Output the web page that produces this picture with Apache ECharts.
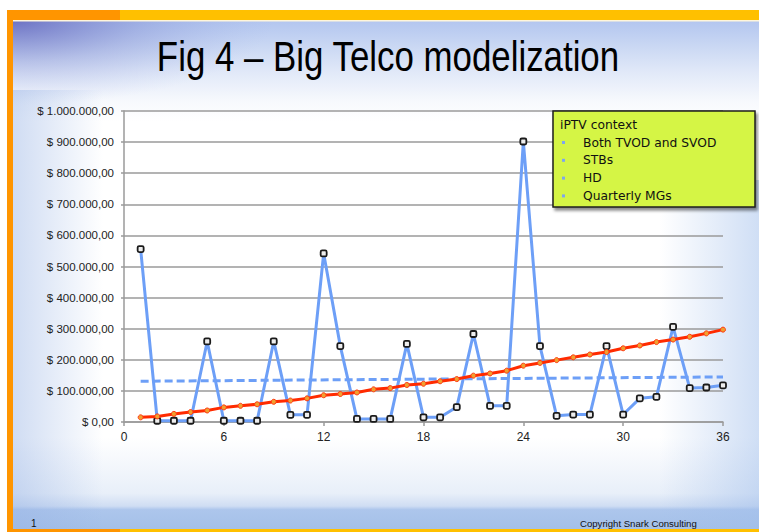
<!DOCTYPE html>
<html>
<head>
<meta charset="utf-8">
<title>Fig 4 - Big Telco modelization</title>
<script src="https://cdn.jsdelivr.net/npm/echarts@6/dist/echarts.min.js"></script>
<style>
	html, body { margin: 0; padding: 0; background: #fff; }
	#telcoChart { width: 759px; height: 532px; }
</style>
</head>
<body>
<div id="telcoChart"></div>
<script>
// 月份 1..36
var months = [1, 2, 3, 4, 5, 6, 7, 8, 9, 10, 11, 12, 13, 14, 15, 16, 17, 18,
	19, 20, 21, 22, 23, 24, 25, 26, 27, 28, 29, 30, 31, 32, 33, 34, 35, 36];

// 蓝线 (每月收入)
var monthlyRevenue = [556000, 4000, 4000, 4000, 259000, 4000, 4000, 4000, 259000, 23000, 23000, 542000,
	244000, 10000, 10000, 10000, 251000, 15000, 15000, 48000, 283000, 52000, 52000, 902000,
	244000, 20000, 24000, 24000, 244000, 24000, 76000, 81000, 306000, 109000, 111000, 118000];

// 红线
var growthRevenue = [15000, 18000, 26000, 32000, 37000, 47000, 52000, 57000, 65000, 69000, 76000, 86000,
	90000, 95000, 105000, 109000, 119000, 123000, 131000, 138000, 149000, 156000, 165000, 181000,
	190000, 199000, 208000, 217000, 225000, 237000, 246000, 257000, 265000, 274000, 285000, 297000];

// 虚线趋势 (两端)
var trendMonths = [1, 36];
var trendValues = [131000, 145000];

// 坐标轴
var xTicks = [0, 6, 12, 18, 24, 30, 36];
var yTicks = [0, 100000, 200000, 300000, 400000, 500000, 600000, 700000, 800000, 900000, 1000000];

// 图例框文字
var boxTitle = 'iPTV context';
var boxItems = ['Both TVOD and SVOD', 'STBs', 'HD', 'Quarterly MGs'];

var titleText = 'Fig 4 \u2013 Big Telco modelization';
var pageNo = '1';
var copyrightText = 'Copyright Snark Consulting';

var BLUE = '#6d9ff7';
var RED = '#ff2b00';

function toPairs(xs, ys) {
	var list = [];
	for (var i = 0; i < xs.length; i++) {
		list.push([xs[i], ys[i]]);
	}
	return list;
}

// $ 1.000.000,00
function formatMoney(value) {
	var s = Math.round(value).toString();
	var out = '';
	while (s.length > 3) {
		out = '.' + s.slice(-3) + out;
		s = s.slice(0, -3);
	}
	return '$ ' + s + out + ',00';
}

function backgroundGraphics() {
	var list = [];
	list.push({ type: 'rect', z: -100, silent: true, shape: { x: 0, y: 0, width: 759, height: 532 }, style: { fill: '#ffffff' } });
	// 幻灯片底色
	list.push({
		type: 'rect', z: -99, silent: true,
		shape: { x: 13, y: 20, width: 746, height: 509 },
		style: {
			fill: new echarts.graphic.LinearGradient(0, 0, 0, 1, [
				{ offset: 0, color: '#b2c5ef' },
				{ offset: 0.05, color: '#c9d7f3' },
				{ offset: 0.1, color: '#e0e8f8' },
				{ offset: 0.16, color: '#f7f9fd' },
				{ offset: 0.2, color: '#ffffff' },
				{ offset: 0.82, color: '#ffffff' },
				{ offset: 0.93, color: '#e8eff9' },
				{ offset: 0.955, color: '#cfddf3' },
				{ offset: 0.962, color: '#adc6ec' },
				{ offset: 1, color: '#a4c0e8' }
			])
		}
	});
	// 左上角深色
	list.push({
		type: 'rect', z: -98, silent: true,
		shape: { x: 13, y: 20, width: 260, height: 85 },
		style: {
			fill: new echarts.graphic.RadialGradient(0, 0, 1, [
				{ offset: 0, color: 'rgba(85,85,180,0.75)' },
				{ offset: 0.5, color: 'rgba(110,120,200,0.3)' },
				{ offset: 1, color: 'rgba(150,170,230,0)' }
			])
		}
	});
	// 左侧淡蓝
	list.push({
		type: 'rect', z: -98, silent: true,
		shape: { x: 13, y: 90, width: 90, height: 439 },
		style: {
			fill: new echarts.graphic.LinearGradient(0, 0, 1, 0, [
				{ offset: 0, color: 'rgba(150,178,228,0.45)' },
				{ offset: 1, color: 'rgba(150,178,228,0)' }
			])
		}
	});
	// 右侧云
	list.push({
		type: 'rect', z: -98, silent: true,
		shape: { x: 660, y: 180, width: 99, height: 349 },
		style: {
			fill: new echarts.graphic.LinearGradient(0, 0, 1, 0, [
				{ offset: 0, color: 'rgba(160,190,235,0)' },
				{ offset: 1, color: 'rgba(160,190,235,0.5)' }
			])
		}
	});
	// 页脚文字
	list.push({ type: 'text', z: 50, silent: true, x: 31, y: 523,
		style: { text: pageNo, fill: '#111', font: '10px "Liberation Sans", Arial, sans-serif', verticalAlign: 'middle' } });
	list.push({ type: 'text', z: 50, silent: true, x: 580, y: 523,
		style: { text: copyrightText, fill: '#111', font: '9.6px "Liberation Sans", Arial, sans-serif', verticalAlign: 'middle' } });
	// 橙色边框
	list.push({ type: 'rect', z: 60, silent: true, shape: { x: 7, y: 10, width: 752, height: 10 }, style: { fill: '#ffc000' } });
	list.push({ type: 'rect', z: 61, silent: true, shape: { x: 7, y: 10, width: 113, height: 10 }, style: { fill: '#ff9500' } });
	list.push({ type: 'rect', z: 60, silent: true, shape: { x: 13, y: 20, width: 746, height: 1.5 }, style: { fill: '#fff6dc' } });
	list.push({ type: 'rect', z: 61, silent: true, shape: { x: 7, y: 10, width: 6, height: 522 }, style: { fill: '#ff9500' } });
	list.push({ type: 'rect', z: 60, silent: true, shape: { x: 7, y: 529, width: 752, height: 3 }, style: { fill: '#ffc000' } });
	list.push({ type: 'rect', z: 61, silent: true, shape: { x: 7, y: 529, width: 113, height: 3 }, style: { fill: '#ff9500' } });
	return list;
}

// 图例框 (每个元素单独设置 z, 才能盖住网格线)
function contextBox() {
	var list = [];
	list.push({
		type: 'rect', z: 100, silent: true,
		shape: { x: 553, y: 111, width: 202, height: 96 },
		style: {
			fill: '#d5f544', stroke: '#1e1e1e', lineWidth: 1.5,
			shadowColor: 'rgba(0,0,0,0.45)', shadowBlur: 3, shadowOffsetX: 2, shadowOffsetY: 3
		}
	});
	list.push({
		type: 'text', z: 101, silent: true, x: 560, y: 125,
		style: { text: boxTitle, fill: '#111', font: '12.3px "DejaVu Sans", sans-serif', verticalAlign: 'middle' }
	});
	for (var i = 0; i < boxItems.length; i++) {
		var y = 142.5 + i * 17.8;
		list.push({ type: 'rect', z: 101, silent: true, shape: { x: 562, y: y - 1.5, width: 3, height: 3 }, style: { fill: '#7ea6ee' } });
		list.push({
			type: 'text', z: 101, silent: true, x: 583, y: y,
			style: { text: boxItems[i], fill: '#111', font: '12.3px "DejaVu Sans", sans-serif', verticalAlign: 'middle' }
		});
	}
	return list;
}

var telcoChart = echarts.init(document.getElementById('telcoChart'), null, { renderer: 'svg' });

var graphics = backgroundGraphics().concat(contextBox());
// 标题 (窄体)
graphics.push({
	type: 'text', z: 20, silent: true, x: 388, y: 56, scaleX: 0.83,
	style: {
		text: titleText, fill: '#000',
		font: '42px "Liberation Sans", Arial, sans-serif',
		align: 'center', verticalAlign: 'middle'
	}
});

var option = {
	animation: false,
	graphic: graphics,
	grid: { left: 124, right: 36, top: 111, bottom: 110, containLabel: false },
	xAxis: {
		type: 'value',
		min: xTicks[0],
		max: xTicks[xTicks.length - 1],
		interval: xTicks[1] - xTicks[0],
		axisLine: { show: true, lineStyle: { color: '#9a9a9a', width: 1.5 } },
		axisTick: { show: true, length: 4, lineStyle: { color: '#9a9a9a', width: 1.5 } },
		axisLabel: { color: '#222', fontSize: 12, margin: 9, fontFamily: '"Liberation Sans", Arial, sans-serif' },
		splitLine: { show: false }
	},
	yAxis: {
		type: 'value',
		min: yTicks[0],
		max: yTicks[yTicks.length - 1],
		interval: yTicks[1] - yTicks[0],
		axisLine: { show: true, lineStyle: { color: '#9a9a9a', width: 1.5 } },
		axisTick: { show: true, length: 3, lineStyle: { color: '#9a9a9a', width: 1.5 } },
		axisLabel: { color: '#222', fontSize: 11.5, margin: 10, fontFamily: '"Liberation Sans", Arial, sans-serif', formatter: formatMoney },
		splitLine: { show: true, lineStyle: { color: '#9a9a9a', width: 1.5 } }
	},
	series: [
		{
			name: 'trend',
			type: 'line',
			z: 2,
			data: toPairs(trendMonths, trendValues),
			symbol: 'none',
			lineStyle: { color: BLUE, width: 3, type: [8, 4] }
		},
		{
			name: 'monthly',
			type: 'line',
			z: 3,
			data: toPairs(months, monthlyRevenue),
			symbol: 'roundRect',
			symbolSize: 6,
			lineStyle: { color: BLUE, width: 3 },
			itemStyle: { color: '#eeeeee', borderColor: '#1b1b1b', borderWidth: 1.8 }
		},
		{
			name: 'growth',
			type: 'line',
			z: 4,
			data: toPairs(months, growthRevenue),
			symbol: 'circle',
			symbolSize: 5,
			lineStyle: { color: RED, width: 3 },
			itemStyle: { color: '#f0a030', borderColor: '#ff3a10', borderWidth: 1 }
		}
	]
};

telcoChart.setOption(option);
</script>
</body>
</html>
